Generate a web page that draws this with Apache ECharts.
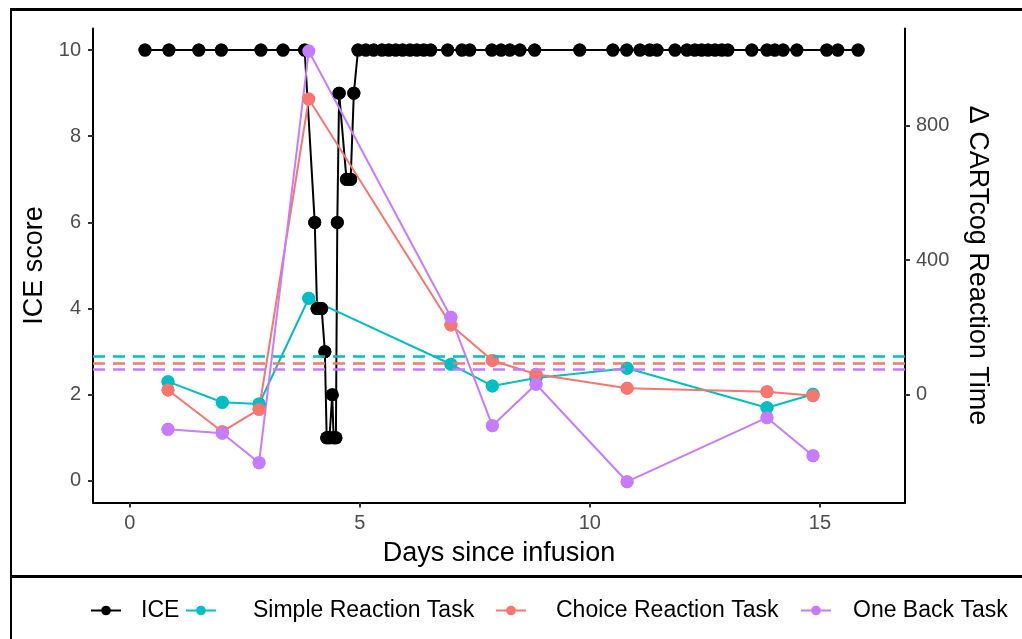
<!DOCTYPE html>
<html>
<head>
<meta charset="utf-8">
<script src="https://cdn.jsdelivr.net/npm/echarts@6/dist/echarts.min.js"></script>
<style>
html,body{margin:0;padding:0;background:#fff;}
#chart{width:1022px;height:639px;}
</style>
</head>
<body>
<div id="chart"></div>
<script>
// ICE score (left axis)
const iceDays = [0.33, 0.85, 1.50, 1.99, 2.85, 3.33, 3.80, 4.02, 4.07, 4.17, 4.24, 4.28, 4.34, 4.40, 4.43, 4.48, 4.51, 4.55, 4.71, 4.80, 4.87, 4.96,
  5.13, 5.30, 5.48, 5.63, 5.78, 5.93, 6.09, 6.24, 6.39, 6.54, 6.91, 7.22, 7.39, 7.87, 8.07, 8.26, 8.48, 8.80, 9.78,
  10.50, 10.80, 11.09, 11.30, 11.46, 11.85, 12.11, 12.28, 12.43, 12.57, 12.72, 12.87, 13.00, 13.52, 13.85, 14.02, 14.20, 14.50, 15.15, 15.39, 15.83];
const iceScore = [10, 10, 10, 10, 10, 10, 10, 6, 4, 4, 3, 1, 1, 2, 1, 1, 6, 9, 7, 7, 9, 10,
  10, 10, 10, 10, 10, 10, 10, 10, 10, 10, 10, 10, 10, 10, 10, 10, 10, 10, 10,
  10, 10, 10, 10, 10, 10, 10, 10, 10, 10, 10, 10, 10, 10, 10, 10, 10, 10, 10, 10, 10];

// Δ CARTcog reaction time (right axis)
const taskDays = [0.83, 2.01, 2.81, 3.89, 6.98, 7.88, 8.83, 10.81, 13.85, 14.85];
const simpleRT = [38.9, -22.3, -27.3, 286.6, 90.6, 26.1, 49.9, 78.7, -38.3, 1.5];
const choiceRT = [14.3, -109.6, -43.1, 878.5, 207.3, 102.0, 60.9, 19.3, 9.2, -2.7];
const oneBackRT = [-102.5, -114.3, -201.7, 1021, 230.2, -91.8, 31.2, -258.2, -68.0, -180.9];
const simpleBaseline = 113;
const choiceBaseline = 93.6;
const oneBackBaseline = 76.6;

const xTicks = [0, 5, 10, 15];
const leftTicks = [0, 2, 4, 6, 8, 10];
const rightTicks = [0, 400, 800];

const names = ['ICE', 'Simple Reaction Task', 'Choice Reaction Task', 'One Back Task'];
const colors = ['#000000', '#00BFC4', '#F8766D', '#C77CFF'];

const pairs = (xs, ys) => xs.map((x, i) => [x, ys[i]]);
const iceData = pairs(iceDays, iceScore);
const taskSets = [pairs(taskDays, simpleRT), pairs(taskDays, choiceRT), pairs(taskDays, oneBackRT)];
const baselines = [simpleBaseline, choiceBaseline, oneBackBaseline];

const FONT = 'Liberation Sans';
const chart = echarts.init(document.getElementById('chart'), null, {renderer: 'canvas'});

const SYM = 13;
const series = [];
// lines (drawn beneath all points)
series.push({
  name: names[0], type: 'line', data: iceData, yAxisIndex: 0, z: 2,
  symbol: 'circle', symbolSize: SYM, itemStyle: {color: colors[0]},
  lineStyle: {color: colors[0], width: 2}, animation: false
});
taskSets.forEach((d, i) => {
  series.push({
    name: names[i + 1], type: 'line', data: d, yAxisIndex: 1, z: 2,
    symbol: 'circle', symbolSize: SYM, itemStyle: {color: colors[i + 1]},
    lineStyle: {color: colors[i + 1], width: 2}, animation: false,
    markLine: {
      silent: true, symbol: ['none', 'none'], label: {show: false},
      lineStyle: {color: colors[i + 1], type: [12, 8], width: 2.5},
      data: [{yAxis: baselines[i]}], animation: false
    }
  });
});
// points on top
series.push({
  name: 'ICE points', type: 'scatter', data: iceData, yAxisIndex: 0, z: 3,
  symbolSize: SYM, itemStyle: {color: colors[0], opacity: 1}, animation: false
});
taskSets.forEach((d, i) => {
  series.push({
    name: names[i + 1] + ' points', type: 'scatter', data: d, yAxisIndex: 1, z: 4,
    symbolSize: SYM, itemStyle: {color: colors[i + 1], opacity: 1}, animation: false
  });
});

const axisLineStyle = {show: true, onZero: false, lineStyle: {color: '#000', width: 2}};
const tickStyle = {lineStyle: {color: '#333', width: 2}, length: 5};

const legendLefts = [90, 185, 495, 800];
const legendGaps = [15, 32, 25, 17];
const legends = names.map((n, i) => ({
  data: [n], bottom: 17, left: legendLefts[i], padding: 0, itemWidth: 30, itemHeight: 12,
  textStyle: {fontFamily: FONT, fontSize: 23, color: '#000', padding: [0, 0, 0, legendGaps[i]]}
}));

chart.setOption({
  backgroundColor: '#fff',
  animation: false,
  textStyle: {fontFamily: FONT},
  grid: {left: 93, right: 117, top: 28.5, bottom: 136.5, containLabel: false},
  legend: legends,
  xAxis: {
    type: 'value', min: -0.80, max: 16.85,
    axisLine: axisLineStyle, splitLine: {show: false},
    axisTick: Object.assign({customValues: xTicks}, tickStyle),
    axisLabel: {customValues: xTicks, fontSize: 20, color: '#4D4D4D', fontFamily: FONT, margin: 11},
    name: 'Days since infusion', nameLocation: 'middle', nameGap: 38,
    nameTextStyle: {fontSize: 27, color: '#000', fontFamily: FONT}
  },
  yAxis: [{
    type: 'value', min: -0.5, max: 10.5, position: 'left',
    axisLine: axisLineStyle, splitLine: {show: false},
    axisTick: Object.assign({customValues: leftTicks}, tickStyle),
    axisLabel: {customValues: leftTicks, fontSize: 20, color: '#4D4D4D', fontFamily: FONT, margin: 12},
    name: 'ICE score', nameLocation: 'middle', nameGap: 44,
    nameTextStyle: {fontSize: 27, color: '#000', fontFamily: FONT}
  }, {
    type: 'value', min: -320, max: 1088, position: 'right',
    axisLine: axisLineStyle, splitLine: {show: false},
    axisTick: Object.assign({customValues: rightTicks}, tickStyle),
    axisLabel: {customValues: rightTicks, fontSize: 20, color: '#4D4D4D', fontFamily: FONT, margin: 11},
    name: 'Δ CARTcog Reaction Time', nameLocation: 'middle', nameGap: 59, nameRotate: -90,
    nameTextStyle: {fontSize: 27, color: '#000', fontFamily: FONT}
  }],
  series: series,
  graphic: [
    {type: 'rect', shape: {x: 10, y: 8, width: 1012, height: 3}, style: {fill: '#000'}, silent: true},
    {type: 'rect', shape: {x: 10, y: 8, width: 2, height: 631}, style: {fill: '#000'}, silent: true},
    {type: 'rect', shape: {x: 10, y: 575, width: 1012, height: 3}, style: {fill: '#000'}, silent: true}
  ]
});
</script>
</body>
</html>
